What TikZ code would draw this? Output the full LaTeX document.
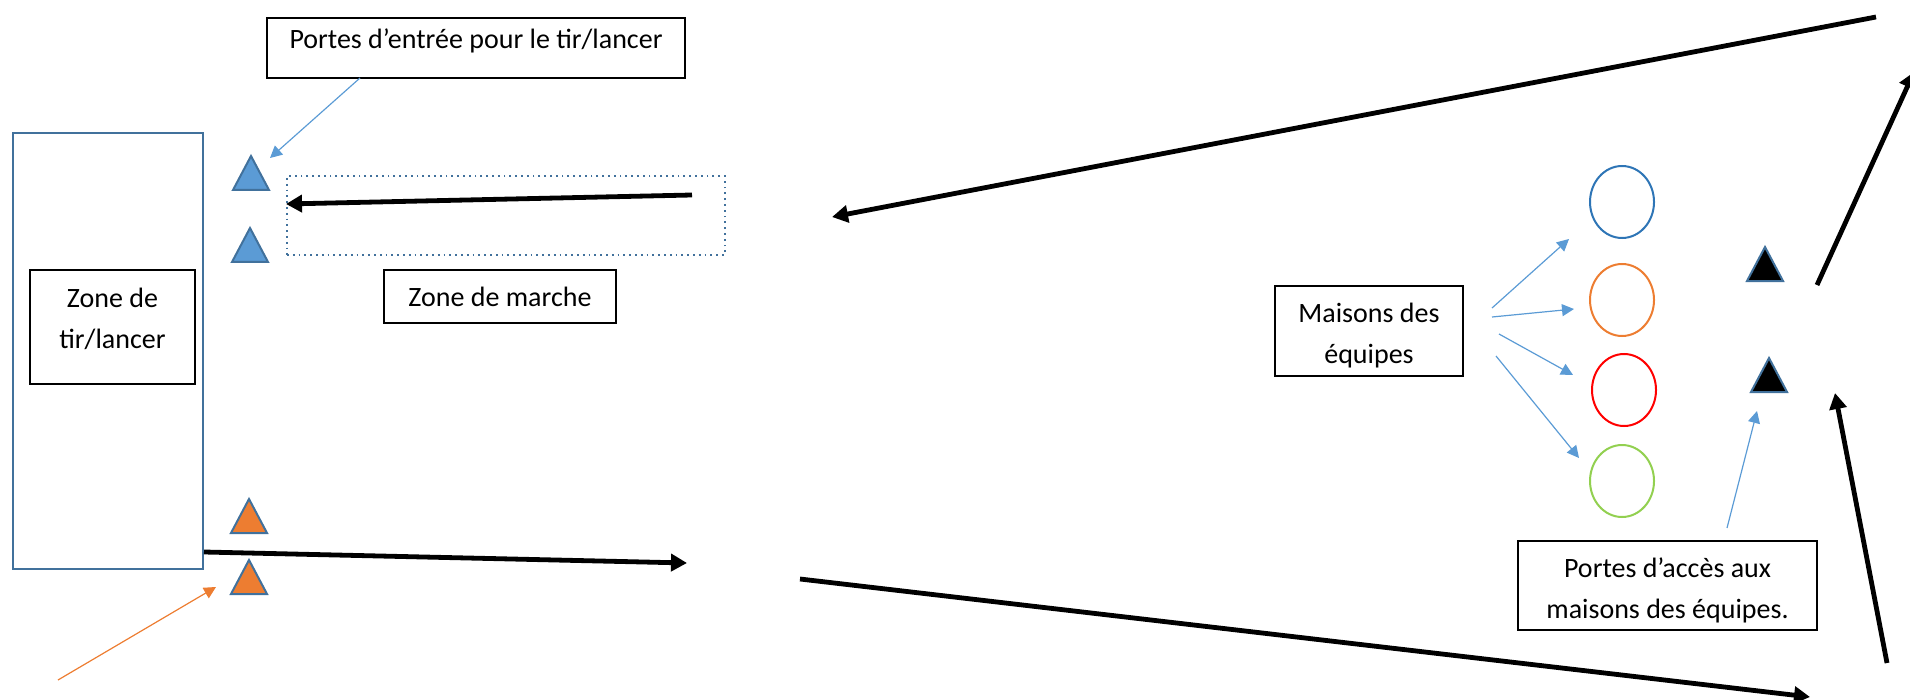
\documentclass[tikz,border=0pt]{standalone}
\usepackage{fontspec}
\setmainfont{Carlito}
\usetikzlibrary{arrows.meta,shapes.geometric}
\definecolor{thinblue}{HTML}{5B9BD5}
\definecolor{edgeblue}{HTML}{41719C}
\definecolor{circblue}{HTML}{2E75B6}
\definecolor{circorange}{HTML}{ED7D31}
\definecolor{circred}{HTML}{FF0000}
\definecolor{circgreen}{HTML}{92D050}
\definecolor{fillblue}{HTML}{5B9BD5}
\definecolor{fillorange}{HTML}{ED7D31}
\newcommand\gate[4]{\coordinate (#1) at (#2,#3);
  \draw[gatestyle,fill=#4] (#1) ++(-18,17) -- ++(18,-34) -- ++(18,34) -- cycle;}
\begin{document}
\begin{tikzpicture}[x=0.5pt,y=-0.5pt,
  labelbox/.style={draw=black, line width=1pt, inner sep=0pt},
  labeltext/.style={inner sep=0pt, align=center, font=\fontsize{14}{20.5}\selectfont},
  house/.style={ellipse, draw=#1, line width=1pt, minimum width=32pt, minimum height=36pt, inner sep=0pt},
  gatestyle/.style={draw=edgeblue, line width=1pt, line join=miter},
  bigarrow/.style={line width=2.4pt, -{Triangle[length=8pt,width=8.5pt]}},
  thinarrow/.style={draw=thinblue, line width=0.6pt, -{Triangle[length=6pt,width=6pt]}},
]
\useasboundingbox (0,0) rectangle (1910,700);

% shooting zone
\node[draw=edgeblue, line width=1pt, minimum width=95pt, minimum height=218pt, inner sep=0pt] (zone) at (108,351) {};
\node[labelbox, minimum width=82.5pt, minimum height=57pt] (zonelbl) at (112.5,327) {};
\node[labeltext] (zonetxt) at (112.5,319) {Zone de\\tir/lancer};

% labels
\node[labelbox, minimum width=209pt, minimum height=30pt] (pe) at (476,48) {};
\node[labeltext] (petxt) at (476,41) {Portes d’entrée pour le tir/lancer};
\node[labelbox, minimum width=116pt, minimum height=26.5pt] (marche) at (500,296.5) {};
\node[labeltext] (marchetxt) at (500,296.5) {Zone de marche};
\node[labelbox, minimum width=94pt, minimum height=45pt] (maisons) at (1369,331) {};
\node[labeltext] (maisonstxt) at (1369,336) {Maisons des\\équipes};
\node[labelbox, minimum width=149.5pt, minimum height=44.5pt] (pa) at (1667.5,585.5) {};
\node[labeltext] (patxt) at (1667.5,590.5) {Portes d’accès aux\\maisons des équipes.};

% walking zone
\node[draw=edgeblue, dotted, line width=0.9pt, minimum width=219pt, minimum height=39.5pt, inner sep=0pt] (walk) at (506,215.5) {};

% gates
\gate{gA}{251}{173}{fillblue}
\gate{gB}{250}{245}{fillblue}
\gate{gC}{249}{516}{fillorange}
\gate{gD}{249}{577}{fillorange}
\gate{gE}{1765}{264}{black}
\gate{gF}{1769}{375}{black}

% team houses
\node[house=circblue] (h1) at (1622,202) {};
\node[house=circorange] (h2) at (1622,300) {};
\node[house=circred] (h3) at (1624,390) {};
\node[house=circgreen] (h4) at (1622,481) {};

% connector end points
\coordinate (peA) at (360,78);
\coordinate (gAtip) at (270,158);
\coordinate (orgS) at (58,680);
\coordinate (orgE) at (216,587);
\coordinate (walkS) at (692,195);
\coordinate (walkE) at (286,204);
\coordinate (zoneS) at (204,552);
\coordinate (zoneE) at (687,563);
\coordinate (botS) at (800,579);
\coordinate (botE) at (1810,697);
\coordinate (rlS) at (1887,663);
\coordinate (rlE) at (1835,393);
\coordinate (ruS) at (1817,285);
\coordinate (ruE) at (1914,72);
\coordinate (topS) at (1876,17);
\coordinate (topE) at (832,217);
\coordinate (m1S) at (1492,308);
\coordinate (m1E) at (1569,239);
\coordinate (m2S) at (1492,317);
\coordinate (m2E) at (1574,309);
\coordinate (m3S) at (1499,334);
\coordinate (m3E) at (1573,375);
\coordinate (m4S) at (1496,356);
\coordinate (m4E) at (1579,458);
\coordinate (paS) at (1727,528);
\coordinate (paE) at (1757,411);

% thin connectors
\draw[thinarrow] (peA) -- (gAtip);
\draw[thinarrow, draw=circorange] (orgS) -- (orgE);
\draw[thinarrow] (m1S) -- (m1E);
\draw[thinarrow] (m2S) -- (m2E);
\draw[thinarrow] (m3S) -- (m3E);
\draw[thinarrow] (m4S) -- (m4E);
\draw[thinarrow] (paS) -- (paE);

% big circuit arrows
\draw[bigarrow] (walkS) -- (walkE);
\draw[bigarrow] (zoneS) -- (zoneE);
\draw[bigarrow] (botS) -- (botE);
\draw[bigarrow] (rlS) -- (rlE);
\draw[bigarrow] (ruS) -- (ruE);
\draw[bigarrow] (topS) -- (topE);
\end{tikzpicture}
\end{document}
